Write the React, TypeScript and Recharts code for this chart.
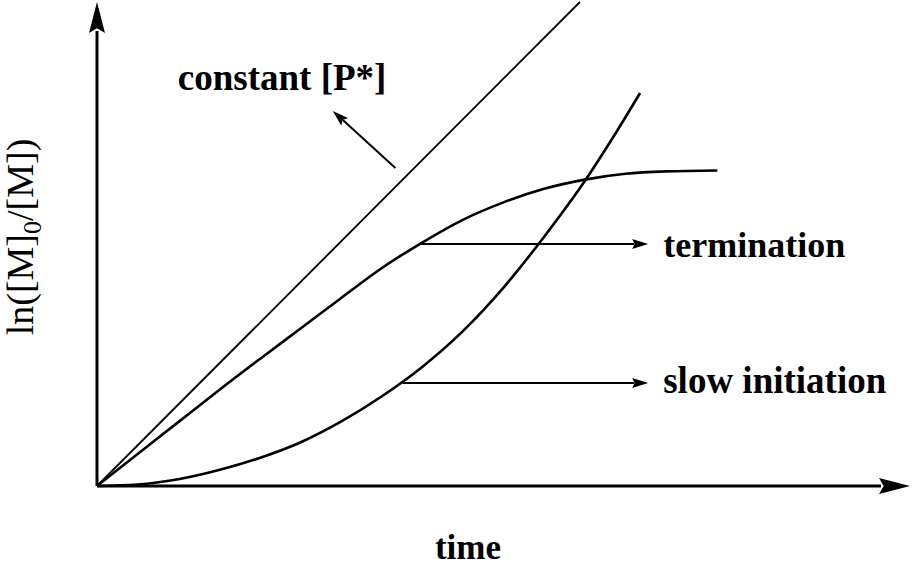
import React from 'react';
import { LineChart, Line, XAxis, YAxis, ReferenceLine } from 'recharts';

// data in arbitrary units: time 0..100, ln([M]0/[M]) 0..100
const constantP = [
  { t: 0, v: 0 },
  { t: 59.4, v: 100 },
];

const termination = [
  { t: 0, v: 0 },
  { t: 5, v: 6.6 },
  { t: 10, v: 13.2 },
  { t: 15, v: 19.8 },
  { t: 20, v: 26.2 },
  { t: 25, v: 32.5 },
  { t: 30, v: 38.8 },
  { t: 35, v: 45.0 },
  { t: 40, v: 50.3 },
  { t: 45, v: 55.0 },
  { t: 50, v: 58.6 },
  { t: 55, v: 61.4 },
  { t: 60, v: 63.3 },
  { t: 65, v: 64.5 },
  { t: 70, v: 65.0 },
  { t: 76.3, v: 65.2 },
];

const slowInitiation = [
  { t: 0, v: 0 },
  { t: 5, v: 0.3 },
  { t: 10, v: 1.4 },
  { t: 15, v: 3.3 },
  { t: 20, v: 5.8 },
  { t: 25, v: 9.0 },
  { t: 30, v: 13.3 },
  { t: 35, v: 18.5 },
  { t: 40, v: 24.6 },
  { t: 45, v: 32.0 },
  { t: 50, v: 41.0 },
  { t: 55, v: 51.5 },
  { t: 60, v: 63.0 },
  { t: 63.5, v: 72.1 },
  { t: 66.8, v: 81.2 },
];

// annotation arrows: [from, to]
const constantArrow = [{ x: 36.7, y: 65.7 }, { x: 29.0, y: 77.5 }];
const terminationArrow = [{ x: 39.7, y: 50.0 }, { x: 67.8, y: 50.0 }];
const slowArrow = [{ x: 37.6, y: 21.3 }, { x: 67.8, y: 21.3 }];

const FONT = '"Liberation Serif", "Times New Roman", serif';

function arrow(width: number, len: number, half: number, extra?: (p: any) => React.ReactNode) {
  return (p: any) => {
    const { x1, y1, x2, y2 } = p;
    const dx = x2 - x1;
    const dy = y2 - y1;
    const d = Math.sqrt(dx * dx + dy * dy) || 1;
    const ux = dx / d;
    const uy = dy / d;
    const bx = x2 - ux * len;
    const by = y2 - uy * len;
    const pts = [
      [x2, y2],
      [bx - uy * half, by + ux * half],
      [bx + ux * len * 0.15, by + uy * len * 0.15],
      [bx + uy * half, by - ux * half],
    ]
      .map((q) => q.join(','))
      .join(' ');
    return (
      <g>
        <line x1={x1} y1={y1} x2={bx + ux * 2} y2={by + uy * 2} stroke="#000" strokeWidth={width} />
        <polygon points={pts} fill="#000" />
        {extra ? extra(p) : null}
      </g>
    );
  };
}

export default function App() {
  return (
    <div style={{ position: 'absolute', left: 0, top: 0, width: 913, height: 568, background: '#fff' }}>
      <LineChart width={913} height={568} margin={{ top: 2, right: 3, bottom: 82, left: 97 }}>
        <XAxis type="number" dataKey="t" domain={[0, 100]} hide />
        <YAxis type="number" dataKey="v" domain={[0, 100]} hide />

        <ReferenceLine
          segment={[{ x: 0, y: 0 }, { x: 100, y: 0 }]}
          ifOverflow="visible"
          shape={arrow(3, 31, 8, () => (
            <text x={468} y={559} textAnchor="middle" fontFamily={FONT} fontWeight="bold" fontSize={35}>
              time
            </text>
          ))}
        />
        <ReferenceLine
          segment={[{ x: 0, y: 0 }, { x: 0, y: 100 }]}
          ifOverflow="visible"
          shape={arrow(3, 31, 8, () => (
            <text
              x={33}
              y={237}
              transform="rotate(-90 33 237)"
              textAnchor="middle"
              fontFamily={FONT}
              fontSize={38}
            >
              ln([M]
              <tspan fontSize={26} dy={8}>0</tspan>
              <tspan dy={-8}>/[M])</tspan>
            </text>
          ))}
        />

        <ReferenceLine
          segment={constantArrow}
          ifOverflow="visible"
          shape={arrow(2, 16, 5, (p) => (
            <text x={p.x2 - 155} y={p.y2 - 21} fontFamily={FONT} fontWeight="bold" fontSize={37}>
              constant [P*]
            </text>
          ))}
        />
        <ReferenceLine
          segment={terminationArrow}
          ifOverflow="visible"
          shape={arrow(2, 16, 5, (p) => (
            <text x={p.x2 + 15} y={p.y2 + 13} fontFamily={FONT} fontWeight="bold" fontSize={36}>
              termination
            </text>
          ))}
        />
        <ReferenceLine
          segment={slowArrow}
          ifOverflow="visible"
          shape={arrow(2, 16, 5, (p) => (
            <text x={p.x2 + 15} y={p.y2 + 10} fontFamily={FONT} fontWeight="bold" fontSize={37}>
              slow initiation
            </text>
          ))}
        />

        <Line
          data={constantP}
          dataKey="v"
          type="linear"
          stroke="#000"
          strokeWidth={1.8}
          dot={false}
          isAnimationActive={false}
        />
        <Line
          data={termination}
          dataKey="v"
          type="monotone"
          stroke="#000"
          strokeWidth={2.6}
          dot={false}
          isAnimationActive={false}
        />
        <Line
          data={slowInitiation}
          dataKey="v"
          type="monotone"
          stroke="#000"
          strokeWidth={2.6}
          dot={false}
          isAnimationActive={false}
        />
      </LineChart>
    </div>
  );
}
